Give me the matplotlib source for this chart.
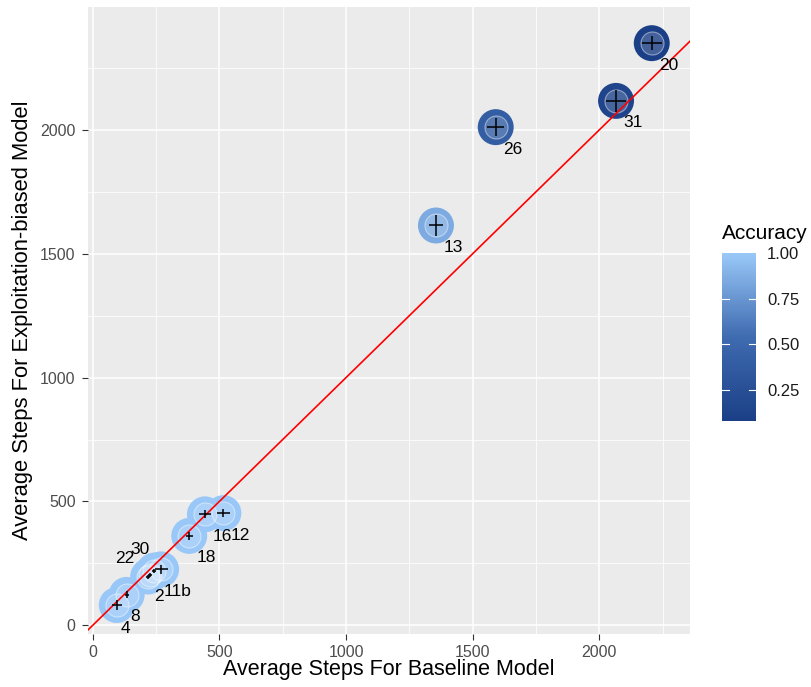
import matplotlib
matplotlib.use("Agg")
import matplotlib.pyplot as plt
from matplotlib.colors import LinearSegmentedColormap, Normalize
from matplotlib.ticker import MultipleLocator

plt.rcParams['font.family'] = ['Liberation Sans', 'DejaVu Sans']

# values
ids = ['4', '8', '2', '22', '30', '11b', '18', '16', '12', '13', '26', '31', '20']
base_steps = [95, 134, 219, 226, 243, 270, 381, 443, 516, 1355, 1591, 2066, 2207]
expl_steps = [82, 123, 197, 203, 221, 226, 361, 448, 453, 1614, 2011, 2117, 2350]
base_err = [20, 8, 8, 8, 8, 26, 14, 23, 26, 28, 33, 40, 40]
expl_err = [20, 14, 8, 8, 8, 18, 17, 16, 17, 44, 36, 44, 28]
accuracy = [1.0, 1.0, 1.0, 1.0, 1.0, 1.0, 1.0, 1.0, 1.0, 0.85, 0.40, 0.13, 0.077]

x_ticks = [0, 500, 1000, 1500, 2000]
y_ticks = [0, 500, 1000, 1500, 2000]
acc_ticks = [0.25, 0.50, 0.75, 1.00]

# label nudges in points (most labels sit down-right of the point)
default_nudge = (12.2, -15.8)
nudges = {'2': (7.7, -14.4), '8': (6.0, -15.6), '4': (6.0, -16.8),
          '22': (-18.0, 12.0), '30': (-10.3, 14.9)}

cmap = LinearSegmentedColormap.from_list('acc', ['#1b3f86', '#3f6bb0', '#99c8f8'])
norm = Normalize(vmin=min(accuracy), vmax=max(accuracy))

fig = plt.figure(figsize=(8.11, 6.87), dpi=100)
ax = fig.add_axes([88 / 811, 1 - 634 / 687, (690 - 88) / 811, (634 - 7) / 687])
ax.set_facecolor('#ebebeb')
for s in ax.spines.values():
    s.set_visible(False)

ax.set_xlim(-18.6, 2358)
ax.set_ylim(-35, 2496)
ax.set_xticks(x_ticks)
ax.set_yticks(y_ticks)
ax.xaxis.set_minor_locator(MultipleLocator(250))
ax.yaxis.set_minor_locator(MultipleLocator(250))
ax.grid(which='major', color='white', lw=1.1)
ax.grid(which='minor', color='white', lw=0.55)
ax.set_axisbelow(True)
ax.tick_params(which='major', length=4, width=0.8, color='#333333',
               labelsize=11.5, labelcolor='#4d4d4d', pad=4)
ax.tick_params(axis='y', pad=5)
ax.tick_params(which='minor', length=0)

cols = [cmap(norm(a)) for a in accuracy]
ax.scatter(base_steps, expl_steps, s=670, c=cols, lw=0, zorder=3)
ax.scatter(base_steps, expl_steps, s=275, facecolor=(1, 1, 1, 0.18),
           edgecolor=(1, 1, 1, 0.45), lw=0.8, zorder=4)

ax.axline((0, 0), slope=1, color='red', lw=1.2, zorder=5)

ax.errorbar(base_steps, expl_steps, xerr=base_err, yerr=expl_err, fmt='none',
            ecolor='black', elinewidth=1.1, capsize=0, zorder=6)

for name, xv, yv in zip(ids, base_steps, expl_steps):
    dx, dy = nudges.get(name, default_nudge)
    ax.annotate(name, (xv, yv), xytext=(dx, dy), textcoords='offset points',
                ha='center', va='center', fontsize=12.5, color='black', zorder=7)

ax.set_xlabel('Average Steps For Baseline Model', fontsize=15.5, labelpad=-1)
ax.set_ylabel('Average Steps For Exploitation-biased Model', fontsize=15.8, labelpad=5)

# colour bar legend
cax = fig.add_axes([722 / 811, 1 - 421 / 687, 34 / 811, 168 / 687])
sm = plt.cm.ScalarMappable(cmap=cmap, norm=norm)
cb = fig.colorbar(sm, cax=cax, ticks=acc_ticks)
cb.outline.set_visible(False)
cb.ax.set_yticklabels(['%.2f' % t for t in acc_ticks])
cb.ax.tick_params(length=0, labelsize=12, labelcolor='#1a1a1a', pad=8)
for t in acc_ticks[:-1]:
    cax.plot([0, 0.2], [t, t], color='white', lw=0.8, transform=cax.get_yaxis_transform())
    cax.plot([0.8, 1.0], [t, t], color='white', lw=0.8, transform=cax.get_yaxis_transform())
cax.text(0, 1.115, 'Accuracy', transform=cax.transAxes, fontsize=15,
         ha='left', va='center')

fig.savefig('out.png', dpi=100)
